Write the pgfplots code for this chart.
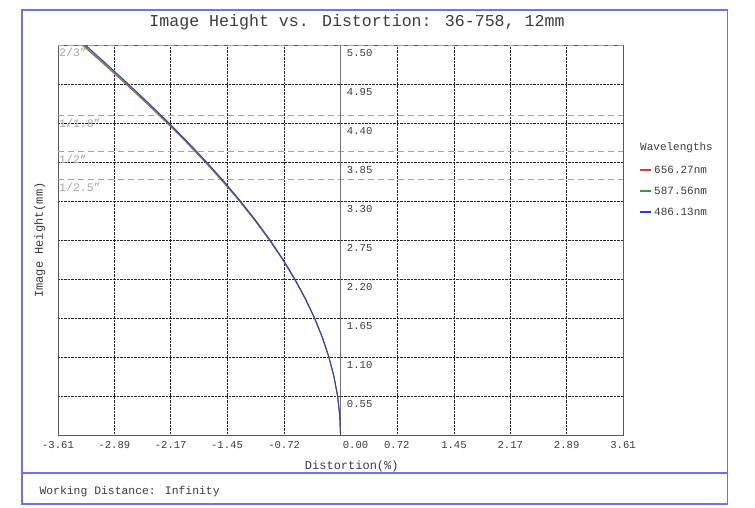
\documentclass[border=0pt]{standalone}
\usepackage{fontspec}
\setmainfont{Liberation Mono}
\usepackage{pgfplots}
\pgfplotsset{compat=1.18}
\definecolor{frameblue}{RGB}{112,112,240}
\definecolor{cred}{RGB}{225,60,60}
\definecolor{cgreen}{RGB}{40,170,40}
\definecolor{cblue}{RGB}{50,50,230}
\definecolor{sensorgray}{RGB}{165,165,165}
\definecolor{txt}{RGB}{60,60,60}
\tikzset{ylab/.style={anchor=north west, text=txt, font=\fontsize{10.6}{12}\selectfont, inner sep=0pt},
  legtxt/.style={anchor=west, font=\fontsize{11}{12}\selectfont, text=txt, inner sep=0pt}}
\begin{document}
\begin{tikzpicture}
\path (0pt,0pt) rectangle (755pt,508pt);
\draw[frameblue, line width=1.2pt] (22pt,4pt) rectangle (727.7pt,498pt);
\draw[frameblue, line width=1.2pt] (22pt,35pt) -- (727.7pt,35pt);
\node[font=\fontsize{16.6}{20}\selectfont, text=txt] at (357pt,486pt) {Image Height vs. Distortion: 36-758, 12mm};
\node[anchor=west, font=\fontsize{11.4}{13}\selectfont, text=txt] at (36pt,16pt) {Working Distance: Infinity};
% legend
\node[legtxt] at (640pt,360pt) {Wavelengths};
\draw[cred, line width=1.1pt] (640pt,338pt) -- (651pt,338pt);
\node[legtxt] at (654pt,338pt) {656.27nm};
\draw[cgreen, line width=1.1pt] (640pt,317pt) -- (651pt,317pt);
\node[legtxt] at (654pt,317pt) {587.56nm};
\draw[cblue, line width=1.1pt] (640pt,296pt) -- (651pt,296pt);
\node[legtxt] at (654pt,296pt) {486.13nm};
\begin{axis}[
  at={(58pt,73pt)}, anchor=south west,
  width=565pt, height=390pt, scale only axis,
  xmin=-3.61, xmax=3.61, ymin=0, ymax=5.5,
  xtick={-3.61,-2.89,-2.17,-1.45,-0.72,0,0.72,1.45,2.17,2.89,3.61},
  xticklabels={-3.61,-2.89,-2.17,-1.45,-0.72,{\hspace*{30pt}0.00},0.72,1.45,2.17,2.89,3.61},
  ytick={0.55,1.10,1.65,2.20,2.75,3.30,3.85,4.40,4.95,5.50},
  yticklabels={},
  major tick length=0pt,
  tick label style={font=\fontsize{10.6}{12}\selectfont, text=txt},
  xticklabel style={yshift=-3pt},
  /pgf/number format/assume math mode=true,
  grid=major,
  major grid style={black!85, densely dotted, line width=0.6pt},
  axis line style={black!65, line width=0.8pt},
  xlabel={Distortion(\%)},
  ylabel={Image Height(mm)},
  label style={font=\fontsize{12}{14}\selectfont, text=txt},
  xlabel style={at={(axis description cs:0.52,-0.058)}, anchor=north},
  ylabel style={at={(axis description cs:-0.016,0.5)}, anchor=south},
]
% sensor size lines
\addplot[sensorgray, dash pattern=on 6pt off 4pt, line width=0.9pt, forget plot] coordinates {(-3.61,5.5) (3.61,5.5)};
\addplot[sensorgray, dash pattern=on 6pt off 4pt, line width=0.9pt, forget plot] coordinates {(-3.61,4.5) (3.61,4.5)};
\addplot[sensorgray, dash pattern=on 6pt off 4pt, line width=0.9pt, forget plot] coordinates {(-3.61,4.0) (3.61,4.0)};
\addplot[sensorgray, dash pattern=on 6pt off 4pt, line width=0.9pt, forget plot] coordinates {(-3.61,3.6) (3.61,3.6)};
% zero axis
\addplot[black!55, line width=0.9pt, forget plot] coordinates {(0,0) (0,5.5)};
% curves: 656.27nm, 587.56nm, 486.13nm
\addplot[color=cred, line width=0.9pt] coordinates {
(0,0) (-0.0094,0.275) (-0.0375,0.55) (-0.0844,0.825) (-0.1497,1.1) (-0.2332,1.375)
(-0.3346,1.65) (-0.4536,1.925) (-0.5898,2.2) (-0.7424,2.475) (-0.9111,2.75)
(-1.0952,3.025) (-1.2938,3.3) (-1.5064,3.575) (-1.7317,3.85) (-1.9693,4.125)
(-2.2178,4.4) (-2.4764,4.675) (-2.7436,4.95) (-3.0186,5.225) (-3.3000,5.5)};
\addplot[color=cgreen, line width=0.9pt] coordinates {
(0,0) (-0.0094,0.275) (-0.0373,0.55) (-0.0839,0.825) (-0.1488,1.1) (-0.2318,1.375)
(-0.3326,1.65) (-0.4509,1.925) (-0.5863,2.2) (-0.7380,2.475) (-0.9057,2.75)
(-1.0887,3.025) (-1.2862,3.3) (-1.4974,3.575) (-1.7215,3.85) (-1.9576,4.125)
(-2.2046,4.4) (-2.4617,4.675) (-2.7274,4.95) (-3.0007,5.225) (-3.2805,5.5)};
\addplot[color=cblue, line width=0.9pt] coordinates {
(0,0) (-0.0093,0.275) (-0.0371,0.55) (-0.0834,0.825) (-0.1479,1.1) (-0.2304,1.375)
(-0.3306,1.65) (-0.4482,1.925) (-0.5828,2.2) (-0.7336,2.475) (-0.9003,2.75)
(-1.0822,3.025) (-1.2785,3.3) (-1.4885,3.575) (-1.7112,3.85) (-1.9459,4.125)
(-2.1915,4.4) (-2.4470,4.675) (-2.7111,4.95) (-2.9828,5.225) (-3.2609,5.5)};
% sensor labels
\node[anchor=north west, text=sensorgray, font=\fontsize{11.5}{13}\selectfont, inner sep=1pt] at (axis cs:-3.61,5.47) {2/3"};
\node[anchor=north west, text=sensorgray, font=\fontsize{11.5}{13}\selectfont, inner sep=1pt] at (axis cs:-3.61,4.47) {1/1.8"};
\node[anchor=north west, text=sensorgray, font=\fontsize{11.5}{13}\selectfont, inner sep=1pt] at (axis cs:-3.61,3.97) {1/2"};
\node[anchor=north west, text=sensorgray, font=\fontsize{11.5}{13}\selectfont, inner sep=1pt] at (axis cs:-3.61,3.57) {1/2.5"};
% y tick labels placed right of the zero line
\node[ylab] at (axis cs:0.08,0.49) {0.55};
\node[ylab] at (axis cs:0.08,1.04) {1.10};
\node[ylab] at (axis cs:0.08,1.59) {1.65};
\node[ylab] at (axis cs:0.08,2.14) {2.20};
\node[ylab] at (axis cs:0.08,2.69) {2.75};
\node[ylab] at (axis cs:0.08,3.24) {3.30};
\node[ylab] at (axis cs:0.08,3.79) {3.85};
\node[ylab] at (axis cs:0.08,4.34) {4.40};
\node[ylab] at (axis cs:0.08,4.89) {4.95};
\node[ylab] at (axis cs:0.08,5.44) {5.50};
\end{axis}
\end{tikzpicture}
\end{document}
